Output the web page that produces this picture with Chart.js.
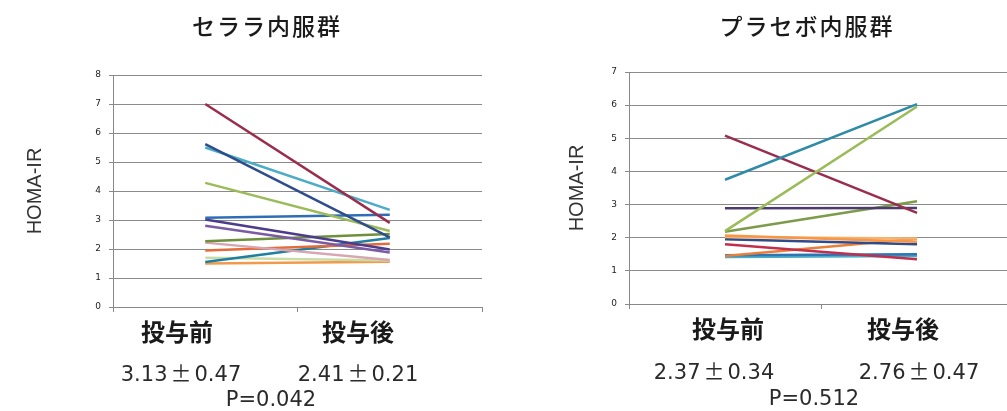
<!DOCTYPE html>
<html lang="ja">
<head>
<meta charset="UTF-8">
<title>HOMA-IR セララ / プラセボ</title>
<script src="https://cdn.jsdelivr.net/npm/chart.js"></script>
<style>
    body {
        margin: 0;
        width: 1007px;
        height: 411px;
        overflow: hidden;
        position: relative;
        background: #fff;
        font-family: "DejaVu Sans", sans-serif;
        color: #333;
    }
    canvas { position: absolute; top: 0; }
    .txt {
        position: absolute;
        transform: translate(-50%, -50%);
        white-space: nowrap;
    }
    .title { font-family: "Noto Sans CJK JP"; font-weight: 500; font-size: 23px; letter-spacing: 2px; color: #1a1a1a; }
    .cat { font-family: "Noto Sans CJK JP"; font-weight: bold; font-size: 24px; color: #1a1a1a; }
    .stat { font-size: 21px; color: #2a2a2a; }
    .pm { font-family: "Noto Sans CJK JP"; margin: 0 3px; }
</style>
</head>
<body>
<canvas id="celera" width="500" height="330" style="left:0"></canvas>
<canvas id="placebo" width="520" height="330" style="left:520px"></canvas>

<div class="txt title" style="left:267px; top:25px">セララ内服群</div>
<div class="txt title" style="left:807px; top:25px">プラセボ内服群</div>

<div class="txt cat" style="left:177px; top:330px">投与前</div>
<div class="txt cat" style="left:358px; top:330px">投与後</div>
<div class="txt cat" style="left:728px; top:327px">投与前</div>
<div class="txt cat" style="left:903px; top:327px">投与後</div>

<div class="txt stat" style="left:181px; top:372px">3.13<span class="pm">±</span>0.47</div>
<div class="txt stat" style="left:358px; top:372px">2.41<span class="pm">±</span>0.21</div>
<div class="txt stat" style="left:271px; top:399px">P=0.042</div>
<div class="txt stat" style="left:714px; top:370px">2.37<span class="pm">±</span>0.34</div>
<div class="txt stat" style="left:919px; top:370px">2.76<span class="pm">±</span>0.47</div>
<div class="txt stat" style="left:814px; top:398px">P=0.512</div>

<script>
    // categories
    const categories = ['投与前', '投与後'];

    // セララ内服群 (one line per patient)
    const celeraBefore = [7.0, 5.62, 5.5, 4.28, 3.08, 3.02, 2.8, 2.27, 2.22, 1.95, 1.55, 1.7, 1.5];
    const celeraAfter  = [2.9, 2.4, 3.35, 2.62, 3.18, 1.98, 1.88, 2.52, 1.62, 2.18, 2.38, 1.6, 1.56];
    const celeraColors = ['#9b2d4c', '#2e4d8c', '#4bacc6', '#9bbb59', '#2f6eb5', '#4d3b8c', '#7b5ba5',
                          '#6e8f3c', '#d8a6b0', '#e46c3a', '#1e7fa0', '#c8dca8', '#f39a4a'];

    // プラセボ内服群
    const placeboBefore = [3.75, 2.2, 5.08, 2.89, 2.18, 2.07, 2.02, 1.95, 1.8, 1.45, 1.47, 1.42];
    const placeboAfter  = [6.03, 5.96, 2.75, 2.9, 3.1, 1.88, 1.98, 1.8, 1.35, 1.97, 1.5, 1.45];
    const placeboColors = ['#2e8ba8', '#9bbb59', '#9b2d4c', '#4d3b70', '#7d9b4a', '#f79646', '#f5b36f',
                           '#2f4b8c', '#c0304d', '#e8803a', '#2e75b6', '#4bacc6'];

    function drawChart(id, before, after, colors, yMax, yWidth, padding) {
        const datasets = before.map((b, i) => ({
            data: [b, after[i]],
            borderColor: colors[i],
            borderWidth: 2.5,
            pointRadius: 0,
            fill: false
        }));
        new Chart(document.getElementById(id), {
            type: 'line',
            data: { labels: categories, datasets: datasets },
            options: {
                responsive: false,
                animation: false,
                layout: { padding: padding },
                plugins: { legend: { display: false }, tooltip: { enabled: false } },
                scales: {
                    x: {
                        offset: true,
                        ticks: { display: false },
                        grid: { offset: true, drawOnChartArea: false, tickLength: 5, color: '#888' },
                        border: { color: '#888' },
                        afterFit: s => { s.height = 5; s.paddingLeft = 0; s.paddingRight = 0; }
                    },
                    y: {
                        min: 0,
                        max: yMax,
                        ticks: { stepSize: 1, padding: 8, color: '#222', font: { size: 9, family: 'DejaVu Sans' } },
                        grid: { color: '#8a8a8a', tickLength: 4 },
                        border: { color: '#888' },
                        title: { display: true, text: 'HOMA-IR', color: '#333', padding: 0,
                                 font: { size: 20, family: 'Liberation Sans' } },
                        afterFit: s => { s.width = yWidth; s.paddingTop = 0; s.paddingBottom = 0; }
                    }
                }
            }
        });
    }

    drawChart('celera', celeraBefore, celeraAfter, celeraColors, 8, 90, { top: 75, left: 23, right: 18, bottom: 18 });
    drawChart('placebo', placeboBefore, placeboAfter, placeboColors, 7, 64, { top: 72, left: 45, right: 27, bottom: 21 });
</script>
</body>
</html>
